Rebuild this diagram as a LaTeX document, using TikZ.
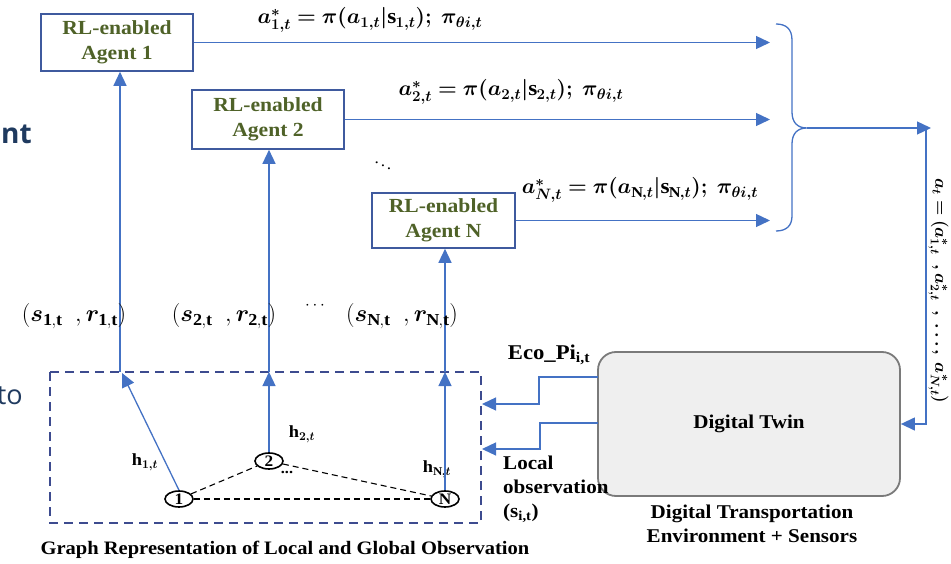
\documentclass[tikz,border=0pt]{standalone}
\usepackage{fix-cm}
\usepackage{bm}
\usepackage{fontspec}
\setmainfont{Liberation Serif}[FakeStretch=1.08]
\setsansfont{Open Sans}
\usetikzlibrary{arrows.meta,shapes.geometric}
\definecolor{agentborder}{HTML}{3F5A9E}
\definecolor{agentgreen}{HTML}{4F6228}
\definecolor{arrowblue}{HTML}{4472C4}
\definecolor{dashnavy}{HTML}{3D4B8F}
\definecolor{slidetext}{HTML}{1F3A5F}
\definecolor{dtfill}{HTML}{EFEFEF}
\definecolor{dtborder}{HTML}{7A7A7A}
\begin{document}
\begin{tikzpicture}[x=1pt,y=-1pt,
  agent/.style={draw=agentborder, line width=1.6pt, align=center, inner sep=0pt,
    font=\fontsize{20}{25}\selectfont\bfseries, text=agentgreen},
  arr/.style={draw=arrowblue, line width=1.3pt, -{Triangle[length=14pt,width=13pt]}},
  bline/.style={draw=arrowblue, line width=1.3pt},
  gnode/.style={ellipse, draw=black, line width=1.6pt, minimum width=28pt, minimum height=16pt,
    inner sep=0pt, font=\fontsize{16}{16}\selectfont\bfseries},
  gedge/.style={draw=black, line width=1.1pt, dash pattern=on 6pt off 4pt},
  mathlbl/.style={font=\fontsize{21.5}{21.5}\selectfont, inner sep=0pt},
  txt/.style={font=\fontsize{19.5}{24}\selectfont\bfseries, inner sep=0pt},
  hlbl/.style={font=\fontsize{17}{17}\selectfont\bfseries, inner sep=0pt},
  srlbl/.style={font=\fontsize{24}{24}\selectfont, inner sep=0pt},
  slide/.style={font=\sffamily\fontsize{27}{27}\selectfont, text=slidetext, inner sep=0pt}
]
\useasboundingbox (0,0) rectangle (951,564);

% cropped slide text on the left
\node[slide, font=\sffamily\bfseries\fontsize{28}{28}\selectfont, anchor=east] (sl1) at (32,134) {nt};
\node[slide, anchor=east] (sl2) at (23,396) {to};

% agents
\node[agent, minimum width=152pt, minimum height=57pt] (a1) at (117,42.5) {RL-enabled\\Agent 1};
\node[agent, minimum width=152pt, minimum height=59pt] (a2) at (268,119.5) {RL-enabled\\Agent 2};
\node[agent, minimum width=143pt, minimum height=55pt] (aN) at (443.5,220.5) {RL-enabled\\Agent N};

% action arrows
\coordinate (bx) at (770,0);
\draw[arr] (a1.east) -- (a1.east -| bx);
\draw[arr] (a2.east) -- (a2.east -| bx);
\draw[arr] (aN.east) -- (aN.east -| bx);

\node[mathlbl] (l1) at (370,20) {$\bm{a^{*}_{1,t} = \pi(a_{1,t}|\mathrm{s}_{1,t});\ \pi_{\theta i,t}}$};
\node[mathlbl] (l2) at (511,92) {$\bm{a^{*}_{2,t} = \pi(a_{2,t}|\mathrm{s}_{2,t});\ \pi_{\theta i,t}}$};
\node[mathlbl] (lN) at (640,190) {$\bm{a^{*}_{N,t} = \pi(a_{\mathrm{N},t}|\mathrm{s}_{\mathrm{N},t});\ \pi_{\theta i,t}}$};
\node[font=\fontsize{16}{16}\selectfont, inner sep=0pt] (dd) at (383,163) {$\ddots$};

% brace
\coordinate (bt) at (807,128);
\draw[bline] (776,24) .. controls (786,24) and (792,29) .. (792,40) -- (792,112)
  .. controls (792,122) and (797,128) .. (bt)
  .. controls (797,128) and (792,134) .. (792,144) -- (792,216)
  .. controls (792,226) and (786,231) .. (776,231);
\coordinate (at) at (931,128);
\draw[arr] (bt) -- (at);

% digital twin
\node[draw=dtborder, fill=dtfill, line width=1.8pt, rounded corners=18pt,
  minimum width=302pt, minimum height=144pt, inner sep=0pt,
  font=\fontsize{19.5}{19.5}\selectfont\bfseries] (dt) at (749,424) {Digital Twin};
\coordinate (vt) at (926,128);
\draw[arr] (vt) |- (dt.east);
\node[font=\fontsize{17.5}{17.5}\selectfont, inner sep=0pt, rotate=-90] (atl) at (938.5,291)
  {$\bm{a_t = (a^{*}_{1,t}\ \ ,a^{*}_{2,t}\ \ ,\ \dots,\ a^{*}_{N,t})}$};

\node[txt, align=center] (dtl) at (752,524) {Digital Transportation\\Environment + Sensors};

% dashed graph box
\draw[dashnavy, line width=1.8pt, dash pattern=on 9pt off 6pt] (50,372) rectangle (481,523);
\node[txt, font=\fontsize{19}{24}\selectfont\bfseries] (cap) at (285,550) {Graph Representation of Local and Global Observation};

% graph nodes
\node[gnode] (n1) at (179,499) {1};
\node[gnode] (n2) at (269,461) {2};
\node[gnode] (nN) at (445,499) {N};
\draw[gedge] (n1) -- (n2);
\draw[gedge] (n2) -- (nN);
\draw[gedge] (n1) -- (nN);
\node[font=\fontsize{15}{15}\selectfont\bfseries, inner sep=0pt] (gd) at (287,472) {...};

\node[hlbl] (h1) at (145,462) {h$_{\bm{1,t}}$};
\node[hlbl] (h2) at (302,434) {h$_{\bm{2,t}}$};
\node[hlbl] (hN) at (437,469) {h$_{\bm{\mathrm{N},t}}$};

% observation arrows
\coordinate (p1) at (120,372);
\coordinate (p2) at (269,372);
\coordinate (pN) at (445,372);
\coordinate (t1) at (122,373);
\draw[arr] (n1.north) -- (t1);
\draw[arr] (n2.north) -- (p2);
\draw[arr] (nN.north) -- (pN);
\draw[arr] (p1) -- (p1 |- a1.south);
\draw[arr] (p2) -- (p2 |- a2.south);
\draw[arr] (pN) -- (pN |- aN.south);

\node[srlbl] (sr1) at (74,316) {$(\bm{s}_{\mathbf{1,t}}\ \ ,\bm{r}_{\mathbf{1,t}})$};
\node[srlbl] (sr2) at (224,316) {$(\bm{s}_{\mathbf{2,t}}\ \ ,\bm{r}_{\mathbf{2,t}})$};
\node[font=\fontsize{17}{17}\selectfont, inner sep=0pt] (srd) at (315,306) {$\cdots$};
\node[srlbl] (srN) at (402,316) {$(\bm{s}_{\mathbf{N,t}}\ \ ,\bm{r}_{\mathbf{N,t}})$};

% DT to graph arrows
\coordinate (s1) at (598,377);
\coordinate (s2) at (598,423);
\coordinate (o1) at (482,404);
\coordinate (o2) at (482,449);
\draw[arr] (s1) -- (539,377) |- (o1);
\draw[arr] (s2) -- (540,423) |- (o2);
\node[font=\fontsize{21}{21}\selectfont\bfseries, inner sep=0pt] (eco) at (549,355) {Eco\_Pi\textsubscript{i,t}};
\node[txt, align=left, anchor=north west] (lo) at (503,456) {Local\\observation\\(s\textsubscript{i,t})};
\end{tikzpicture}
\end{document}
